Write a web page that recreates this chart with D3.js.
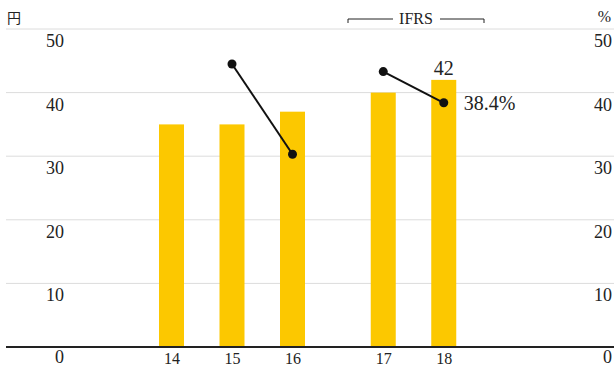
<!DOCTYPE html>
<html>
<head>
<meta charset="utf-8">
<script src="https://cdn.jsdelivr.net/npm/d3@7"></script>
<style>
  html, body { margin: 0; padding: 0; background: #fff; }
  svg { display: block; }
  svg text { font-family: "Liberation Serif", "Times New Roman", serif; fill: #222; }
</style>
</head>
<body>
<svg id="chart" width="614" height="367"></svg>
<script>
// Fiscal years and their slot on the x axis (a half-slot gap before the IFRS years)
const years = ["14", "15", "16", "17", "18"];
const slots = [0, 1, 2, 3.5, 4.5];
// Dividend per share (円)
const dividends = [35, 35, 37, 40, 42];
// Payout ratio (%), drawn as two separate segments
const payoutJGAAP = [{ year: "15", v: 44.5 }, { year: "16", v: 30.3 }];
const payoutIFRS = [{ year: "17", v: 43.3 }, { year: "18", v: 38.4 }];
const yTicks = [0, 10, 20, 30, 40, 50];

const svg = d3.select("#chart");
const W = 614;

const x = d3.scaleLinear().domain([0, 4.5]).range([171.5, 443.75]);
const slotOf = y => slots[years.indexOf(y)];
const yL = d3.scaleLinear().domain([0, 50]).range([347, 29]);
const yR = d3.scaleLinear().domain([0, 50]).range([347, 29]);
const barW = 25;

// Horizontal gridlines
svg.append("g").selectAll("line").data(yTicks.filter(d => d > 0)).join("line")
  .attr("x1", 6).attr("x2", W)
  .attr("y1", d => yL(d)).attr("y2", d => yL(d))
  .attr("stroke", "#dcdcdc").attr("stroke-width", 1);

function styleAxis(g, size, dy) {
  g.attr("font-family", null).attr("font-size", null);
  g.select(".domain").remove();
  g.selectAll("text").attr("dy", null).attr("y", dy).attr("font-size", size).attr("fill", "#222");
}

// Left axis labels (円), written just below each gridline; the zero label sits a bit tighter
const tickDy = d => (d === 0 ? 15.5 : 17.5);
const gl = svg.append("g").attr("transform", "translate(64,0)")
  .call(d3.axisLeft(yL).tickValues(yTicks).tickSize(0).tickPadding(0));
styleAxis(gl, 18, tickDy);

// Right axis labels (%)
const gr = svg.append("g").attr("transform", "translate(612,0)")
  .call(d3.axisLeft(yR).tickValues(yTicks).tickSize(0).tickPadding(0));
styleAxis(gr, 18, tickDy);

svg.append("text").attr("x", 7).attr("y", 23).attr("font-size", 14)
  .style("font-family", '"Noto Sans CJK JP", serif').text("円");
svg.append("text").attr("x", 611).attr("y", 22).attr("text-anchor", "end")
  .attr("font-size", 16).text("%");

// Bars
svg.append("g").selectAll("rect").data(years).join("rect")
  .attr("x", (d, i) => x(slots[i]) - barW / 2)
  .attr("y", (d, i) => yL(dividends[i]))
  .attr("width", barW)
  .attr("height", (d, i) => yL(0) - yL(dividends[i]))
  .attr("fill", "#fcc800");

// Baseline
svg.append("line").attr("x1", 6).attr("x2", W).attr("y1", yL(0)).attr("y2", yL(0))
  .attr("stroke", "#222").attr("stroke-width", 2);

// X axis labels
const gx = svg.append("g").attr("transform", `translate(0,${yL(0)})`)
  .call(d3.axisBottom(x).tickValues(slots).tickFormat((d, i) => years[i]).tickSize(0).tickPadding(0));
styleAxis(gx, 16, 16.5);
gx.selectAll("text").attr("text-anchor", "middle");

// Payout ratio lines
const line = d3.line().x(d => x(slotOf(d.year))).y(d => yR(d.v));
[payoutJGAAP, payoutIFRS].forEach(seg => {
  svg.append("path").datum(seg).attr("d", line)
    .attr("fill", "none").attr("stroke", "#111").attr("stroke-width", 2);
  svg.append("g").selectAll("circle").data(seg).join("circle")
    .attr("cx", d => x(slotOf(d.year))).attr("cy", d => yR(d.v))
    .attr("r", 4.5).attr("fill", "#111");
});

// Value labels for the latest year
const last = years.length - 1;
svg.append("text").attr("x", x(slots[last])).attr("y", yL(dividends[last]) - 5)
  .attr("text-anchor", "middle").attr("font-size", 20).text(dividends[last]);
svg.append("text").attr("x", x(slots[last]) + 20).attr("y", yR(payoutIFRS[1].v) + 7)
  .attr("font-size", 20).text(payoutIFRS[1].v.toFixed(1) + "%");

// IFRS bracket above the last two years
const bx1 = 348, bx2 = 484, by = 19;
const bracket = svg.append("g").attr("stroke", "#222").attr("stroke-width", 1).attr("fill", "none");
bracket.append("path").attr("d", `M${bx1},${by + 4}V${by}H393`);
bracket.append("path").attr("d", `M440,${by}H${bx2}V${by + 4}`);
svg.append("text").attr("x", (bx1 + bx2) / 2).attr("y", 24)
  .attr("text-anchor", "middle").attr("font-size", 16).text("IFRS");
</script>
</body>
</html>
